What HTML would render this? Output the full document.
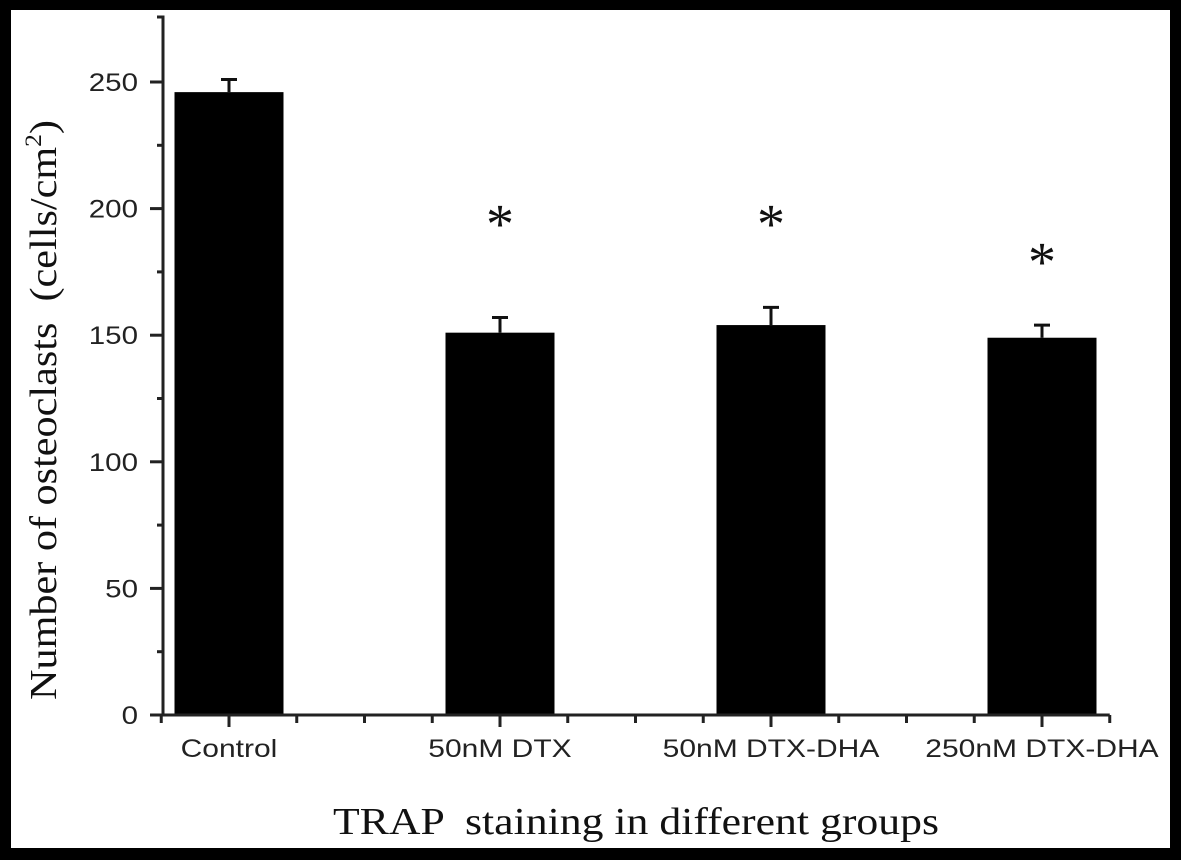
<!DOCTYPE html>
<html><head><meta charset="utf-8"><style>
html,body{margin:0;padding:0;background:#000;}
svg{display:block;}
.tk{font-family:"Liberation Sans",Arial,sans-serif;font-size:25px;fill:#222;}
.ser{font-family:"Liberation Serif","Times New Roman",serif;fill:#111;white-space:pre;}
</style></head><body>
<svg width="1181" height="860" viewBox="0 0 1181 860">
<rect x="0" y="0" width="1181" height="860" fill="#000"/>
<rect x="11" y="10" width="1159" height="838" fill="#fff"/>
<g id="g"></g>
</svg>
<script>
const categories=["Control","50nM DTX","50nM DTX-DHA","250nM DTX-DHA"];
const values=[246,151,154,149];
const errors=[5,6,7,5];
const significant=[false,true,true,true];
const asteriskLevel=[0,196,196,181];
const yTicks=[0,50,100,150,200,250];
const NS="http://www.w3.org/2000/svg";
const g=document.getElementById('g');
const y0=715,yScale=2.532;
const yS=v=>y0-v*yScale;
const x0=229,unit=271;
const xS=i=>x0+i*unit;
function mk(t,a,txt){const e=document.createElementNS(NS,t);for(const k in a)e.setAttribute(k,a[k]);if(txt!==undefined)e.textContent=txt;g.appendChild(e);return e;}
function stretch(el,f){const w=el.getComputedTextLength();el.setAttribute('textLength',w*f);el.setAttribute('lengthAdjust','spacingAndGlyphs');}
categories.forEach((c,i)=>{
 const cx=xS(i),w=109;
 const b=mk('rect',{x:cx-w/2,y:yS(values[i]),width:w,height:y0-yS(values[i]),fill:'#000'});
 
 
 const e=mk('path',{d:`M${cx},${yS(values[i])}V${yS(values[i]+errors[i])}M${cx-8},${yS(values[i]+errors[i])}H${cx+8}`,stroke:'#111','stroke-width':3,fill:'none'});
 
 
 if(significant[i]){
  const s=mk('text',{x:cx,y:yS(asteriskLevel[i])+24,'text-anchor':'middle',class:'ser','font-size':56},'*');
  
  
 }
 const l=mk('text',{x:cx,y:757,'text-anchor':'middle',class:'tk'},c);
 
 
 stretch(l,1.2);
});
const ya=mk('path',{d:`M157,17H163V${y0}`,stroke:'#222','stroke-width':3,fill:'none'});


const xa=mk('path',{d:`M163,${y0}H${xS(3.25)}`,stroke:'#222','stroke-width':3,fill:'none'});


for(let k=-1;k<=13;k++){
 const xx=xS(k*0.25);
 if(xx<160)continue;
 const major=(k%4===0);
 const t=mk('line',{x1:xx,y1:y0,x2:xx,y2:y0+(major?12:8),stroke:'#222','stroke-width':3});
 
 
}
yTicks.forEach(v=>{
 const t=mk('line',{x1:150,y1:yS(v),x2:163,y2:yS(v),stroke:'#222','stroke-width':3});
 
 
 const l=mk('text',{x:138,y:yS(v)+9,'text-anchor':'end',class:'tk'},String(v));
 
 
 stretch(l,1.18);
 if(v<250){const m=mk('line',{x1:157,y1:yS(v+25),x2:163,y2:yS(v+25),stroke:'#222','stroke-width':3});
 
 }
});
const yt=mk('text',{transform:'translate(56,410) rotate(-90)','text-anchor':'middle',class:'ser','font-size':38});


yt.innerHTML='Number of osteoclasts  (cells/cm<tspan dy="-15" font-size="23">2</tspan><tspan dy="15">)</tspan>';
yt.setAttribute('textLength',580);
yt.setAttribute('lengthAdjust','spacingAndGlyphs');
const xt=mk('text',{x:636,y:834,'text-anchor':'middle',class:'ser','font-size':38},'TRAP  staining in different groups');


xt.setAttribute('textLength',606);
xt.setAttribute('lengthAdjust','spacingAndGlyphs');
</script>
</body></html>
